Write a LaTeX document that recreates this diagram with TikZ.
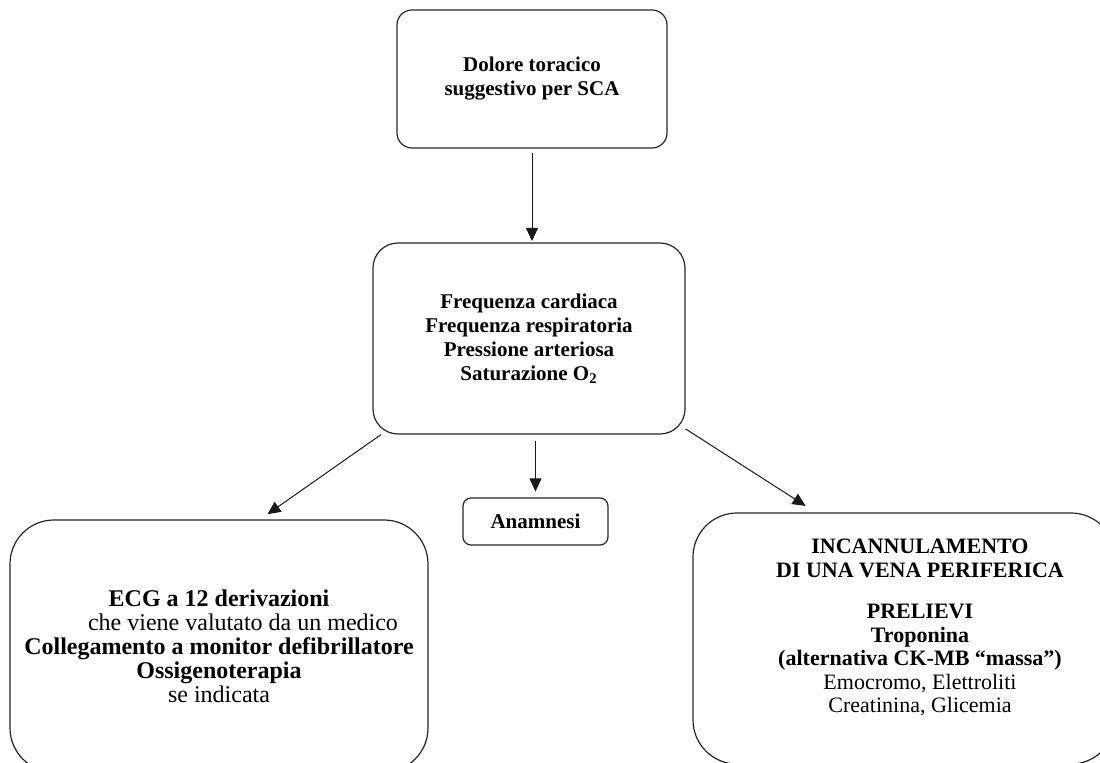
\documentclass[tikz,border=0pt]{standalone}
\usepackage{fontspec}
\setmainfont{Liberation Serif}
\usetikzlibrary{positioning,arrows.meta}

\tikzset{
  box/.style={draw=black!85, line width=0.6pt, align=center, inner sep=2pt},
  arr/.style={-{Triangle[length=6.5pt,width=6pt]}, line width=0.5pt, black!90},
}

\begin{document}
\begin{tikzpicture}[x=0.5pt,y=-0.5pt]
    \path[use as bounding box, clip] (0,0) rectangle (1100,763);

    % Start
    \node[box, rounded corners=7.5pt, minimum width=135pt, minimum height=69pt,
          font=\fontsize{10.5}{12}\selectfont\bfseries] (dolore) at (532,79)
        {Dolore toracico\\suggestivo per SCA};

    % Parametri vitali
    \node[box, rounded corners=12.5pt, minimum width=156pt, minimum height=95.5pt,
          font=\fontsize{10.5}{12}\selectfont\bfseries] (param) at (529,338.5)
        {Frequenza cardiaca\\Frequenza respiratoria\\Pressione arteriosa\\Saturazione O\textsubscript{2}};

    % Anamnesi
    \node[box, rounded corners=4pt, minimum width=72.5pt, minimum height=23.5pt,
          font=\fontsize{10.5}{12}\selectfont\bfseries] (anamnesi) at (535.5,521.5) {Anamnesi};

    % ECG
    \node[box, rounded corners=22pt, minimum width=209pt, minimum height=126pt,
          font=\fontsize{12}{12}\selectfont] (ecg) at (219,646)
        {\textbf{ECG a 12 derivazioni}\\
         \hspace*{2em}che viene valutato da un medico\\
         \textbf{Collegamento a monitor defibrillatore}\\
         \textbf{Ossigenoterapia}\\
         se indicata};

    % Accesso venoso (testo spostato a destra e in alto)
    \node[box, rounded corners=22pt, minimum width=211pt, minimum height=125.5pt] (vena) at (904,638.5) {};
    \node[align=center, inner sep=0pt, font=\fontsize{11}{11.75}\selectfont] (venatesto)
        at ([xshift=8pt, yshift=5.5pt]vena.center)
        {\textbf{INCANNULAMENTO}\\
         \textbf{DI UNA VENA PERIFERICA}\\[9pt]
         \textbf{PRELIEVI}\\
         \textbf{Troponina}\\
         \textbf{(alternativa CK-MB ``massa'')}\\
         Emocromo, Elettroliti\\
         Creatinina, Glicemia};

    % Frecce
    \draw[arr, shorten <=2pt, shorten >=0.7pt] (dolore.south) -- (dolore.south |- param.north);
    \draw[arr, shorten <=3pt, shorten >=3pt] (anamnesi.north |- param.south) -- (anamnesi.north);
    \draw[arr, shorten >=4.5pt] (param.213) -- (ecg.72);
    \draw[arr, shorten >=6pt] (param.330) -- (vena.125);
\end{tikzpicture}
\end{document}
